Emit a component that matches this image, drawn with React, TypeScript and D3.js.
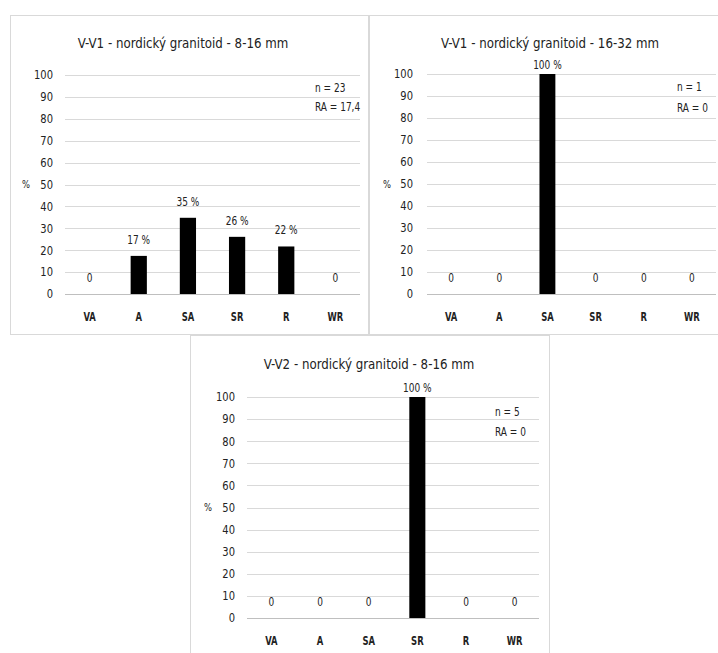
import React from "react";
import * as d3 from "d3";

const categories = ["VA", "A", "SA", "SR", "R", "WR"];
const yTicks = [0, 10, 20, 30, 40, 50, 60, 70, 80, 90, 100];

const titles = [
  "V-V1 - nordický granitoid - 8-16 mm",
  "V-V1 - nordický granitoid - 16-32 mm",
  "V-V2 - nordický granitoid - 8-16 mm",
];
const valuesV1_8_16 = [0, 17.4, 34.8, 26.1, 21.7, 0];
const valuesV1_16_32 = [0, 0, 100, 0, 0, 0];
const valuesV2_8_16 = [0, 0, 0, 100, 0, 0];
const nLabels = ["n = 23", "n = 1", "n = 5"];
const raLabels = ["RA = 17,4", "RA = 0", "RA = 0"];

const seriesList = [valuesV1_8_16, valuesV1_16_32, valuesV2_8_16];

const layouts = [
  { box: { x: 10.5, y: 15.5, w: 358, h: 319 }, plot: { l: 65, r: 360, t: 75, b: 294 }, title: { x: 183, y: 43 }, yTickRight: 53, pctX: 26, stats: { x: 315, y1: 88, y2: 107 } },
  { box: { x: 369.5, y: 15.5, w: 360, h: 319 }, plot: { l: 427, r: 716, t: 74, b: 294 }, title: { x: 550, y: 43 }, yTickRight: 413, pctX: 387, stats: { x: 677, y1: 87, y2: 108 } },
  { box: { x: 190.5, y: 335.5, w: 359, h: 330 }, plot: { l: 247, r: 539, t: 397, b: 618 }, title: { x: 369, y: 364 }, yTickRight: 235, pctX: 208, stats: { x: 495, y1: 412, y2: 432 } },
];

const FONT = "'DejaVu Sans Condensed', 'Liberation Sans Narrow', 'Roboto', sans-serif";
const INK = "#222";

function T({ x, y, size, anchor = "middle", weight = "normal", sx = 0.9, children }: any) {
  return (
    <g transform={`translate(${x},${y}) scale(${sx},1)`}>
      <text x={0} y={0} textAnchor={anchor} dominantBaseline="central" fontSize={size} fontWeight={weight} fill={INK} fontFamily={FONT} fontStretch="condensed">
        {children}
      </text>
    </g>
  );
}

function Panel({ idx }: { idx: number }) {
  const L = layouts[idx];
  const values = seriesList[idx];
  const x = d3.scaleBand<string>().domain(categories).range([L.plot.l, L.plot.r]).paddingInner(0.67).paddingOuter(0.335);
  const y = d3.scaleLinear().domain([0, 100]).range([L.plot.b, L.plot.t]);
  const minLabelY = L.plot.t - 9;
  return (
    <g>
      <rect x={L.box.x} y={L.box.y} width={L.box.w} height={L.box.h} fill="#fff" stroke="#d9d9d9" strokeWidth={1} />
      <T x={L.title.x} y={L.title.y} size={14} sx={0.94}>{titles[idx]}</T>
      {yTicks.map((t) => (
        <g key={t}>
          <line x1={L.plot.l} x2={L.plot.r} y1={Math.round(y(t)) + 0.5} y2={Math.round(y(t)) + 0.5} stroke={t === 0 ? "#bfbfbf" : "#d9d9d9"} strokeWidth={1} />
          <T x={L.yTickRight} y={y(t)} size={13} anchor="end" sx={0.85}>{t}</T>
        </g>
      ))}
      <T x={L.pctX} y={y(50)} size={11} sx={0.85}>%</T>
      {categories.map((c, i) => {
        const v = values[i];
        const x0 = x(c)!;
        const top = y(v);
        const cx = x0 + x.bandwidth() / 2;
        const ly = Math.max(top - 16, minLabelY);
        return (
          <g key={c}>
            {v > 0 && <rect x={x0} y={top} width={x.bandwidth()} height={y(0) - top} fill="#000" />}
            <T x={cx} y={ly} size={12.5} sx={0.8}>{v === 0 ? "0" : `${Math.round(v)} %`}</T>
            <T x={cx} y={L.plot.b + 22} size={13} weight="bold" sx={0.72}>{c}</T>
          </g>
        );
      })}
      <T x={L.stats.x} y={L.stats.y1} size={12.5} anchor="start" sx={0.8}>{nLabels[idx]}</T>
      <T x={L.stats.x} y={L.stats.y2} size={12.5} anchor="start" sx={0.8}>{raLabels[idx]}</T>
    </g>
  );
}

export default function App() {
  return (
    <svg width={718} height={653} style={{ position: "absolute", left: 0, top: 0, background: "#fff" }}>
      <rect x={0} y={0} width={718} height={653} fill="#fff" />
      {[0, 1, 2].map((i) => (
        <Panel key={i} idx={i} />
      ))}
    </svg>
  );
}
